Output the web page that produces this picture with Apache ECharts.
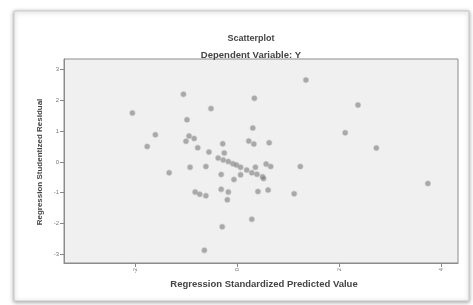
<!DOCTYPE html>
<html><head><meta charset="utf-8">
<script src="https://cdn.jsdelivr.net/npm/echarts@6/dist/echarts.min.js"></script>
<style>html,body{margin:0;padding:0;background:#fff}#c{width:473px;height:305px}</style>
</head><body><div id="c"></div>
<script>
const predicted = [-1.06,0.33,-2.06,-0.52,-0.99,0.30,-1.61,-1.77,-0.95,-0.85,-1.01,-0.78,-0.29,0.22,0.32,0.62,-0.56,-0.26,-0.38,-0.28,-0.18,-0.09,-0.02,0.06,0.18,0.28,0.38,0.49,0.56,0.65,0.35,1.23,-1.34,-0.93,-0.62,-0.32,0.06,-0.07,0.51,-0.32,-0.18,0.40,0.60,1.11,-0.83,-0.74,-0.62,-0.20,0.28,-0.30,-0.65,1.34,2.36,2.11,2.72,3.73];
const residual = [2.20,2.07,1.59,1.73,1.37,1.10,0.88,0.50,0.84,0.76,0.67,0.46,0.59,0.68,0.58,0.62,0.32,0.29,0.13,0.06,0.01,-0.06,-0.10,-0.17,-0.26,-0.35,-0.40,-0.48,-0.07,-0.15,-0.17,-0.15,-0.35,-0.17,-0.15,-0.41,-0.42,-0.57,-0.54,-0.89,-0.98,-0.96,-0.91,-1.03,-0.98,-1.05,-1.10,-1.23,-1.86,-2.10,-2.87,2.66,1.85,0.95,0.45,-0.70];
const xTicks = [-2, 0, 2, 4];
const yTicks = [3, 2, 1, 0, -1, -2, -3];
const titleText = 'Scatterplot';
const subtitleText = 'Dependent Variable: Y';
const xName = 'Regression Standardized Predicted Value';
const yName = 'Regression Studentized Residual';

const chart = echarts.init(document.getElementById('c'), null, {renderer: 'canvas'});
const font = 'Liberation Sans, Arial, sans-serif';
chart.setOption({
  animation: false,
  backgroundColor: '#ffffff',
  textStyle: {fontFamily: font},
  graphic: [
    {type: 'rect', z: -10, shape: {x: 14, y: 11, width: 455, height: 290},
     style: {fill: '#fff', stroke: '#c8c8c8', lineWidth: 1, shadowBlur: 4, shadowColor: 'rgba(0,0,0,0.35)', shadowOffsetX: 0, shadowOffsetY: 1}},
    {type: 'text', x: 264, y: 284, z: 5,
     style: {text: xName, font: 'bold 9.5px ' + font, fill: '#444', align: 'center', verticalAlign: 'middle'}},
    {type: 'text', x: 40, y: 162, rotation: Math.PI/2, z: 5,
     style: {text: yName, font: 'bold 8px ' + font, fill: '#444', align: 'center', verticalAlign: 'middle'}}
  ],
  title: [
    {text: titleText, left: 246, textAlign: 'center', top: 29, textStyle: {fontSize: 9, fontWeight: 'bold', color: '#444', fontFamily: font}},
    {text: subtitleText, left: 246, textAlign: 'center', top: 45, textStyle: {fontSize: 9.5, fontWeight: 'bold', color: '#444', fontFamily: font}}
  ],
  grid: {left: 64, top: 59, right: 15, bottom: 42, show: true, backgroundColor: '#f0f0f0', borderColor: '#8c8c8c', borderWidth: 1},
  xAxis: {
    type: 'value', min: -3.4, max: 4.32,
    axisLine: {show: true, onZero: false, lineStyle: {color: '#8c8c8c'}},
    axisTick: {show: true, customValues: xTicks, length: 4, lineStyle: {color: '#888'}},
    axisLabel: {customValues: xTicks, rotate: 90, fontSize: 6, color: '#777', margin: 5},
    splitLine: {show: false}
  },
  yAxis: {
    type: 'value', min: -3.28, max: 3.34,
    axisLine: {show: true, onZero: false, lineStyle: {color: '#8c8c8c'}},
    axisTick: {show: true, customValues: yTicks, length: 4, lineStyle: {color: '#888'}},
    axisLabel: {customValues: yTicks, fontSize: 6, color: '#777', margin: 5},
    splitLine: {show: false}
  },
  series: [{
    type: 'scatter',
    data: predicted.map((x, i) => [x, residual[i]]),
    symbol: 'circle',
    symbolSize: 5,
    itemStyle: {color: 'rgba(115,115,115,0.7)', borderColor: 'rgba(170,170,170,0.45)', borderWidth: 1.5}
  }]
});
</script></body></html>
